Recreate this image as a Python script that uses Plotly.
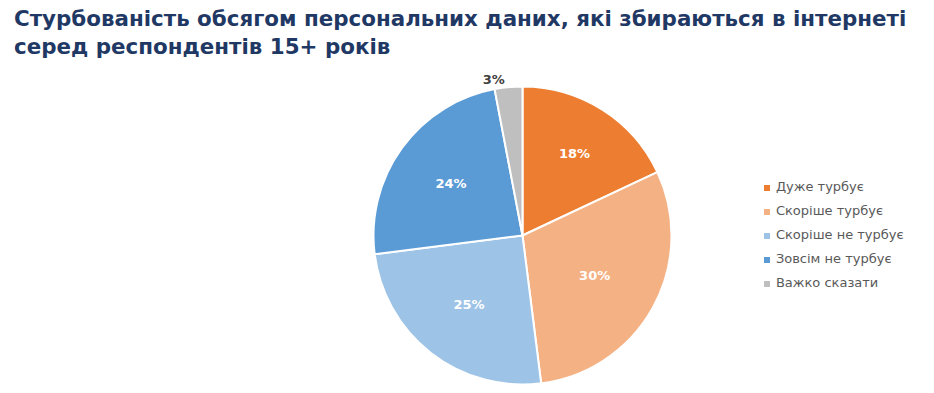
import plotly.graph_objects as go

labels = ["Дуже турбує", "Скоріше турбує", "Скоріше не турбує", "Зовсім не турбує", "Важко сказати"]
values = [18, 30, 25, 24, 3]
colors = ["#ED7D31", "#F4B183", "#9DC3E6", "#5B9BD5", "#BFBFBF"]
text_pos = ["inside", "inside", "inside", "inside", "outside"]
text_colors = ["#FFFFFF", "#FFFFFF", "#FFFFFF", "#FFFFFF", "#404040"]
title_lines = ["Стурбованість обсягом персональних даних, які збираються в інтернеті",
               "серед респондентів 15+ років"]

W, H = 934, 393
cx, cy, r = 522.5, 235.5, 149

fig = go.Figure()
fig.add_trace(go.Pie(
    labels=labels, values=values, sort=False, direction="clockwise", rotation=0,
    marker=dict(colors=colors, line=dict(color="white", width=2)),
    texttemplate="%{value}%", textposition=text_pos,
    textfont=dict(family="DejaVu Sans", size=13, color=text_colors, weight="bold"),
    insidetextorientation="horizontal",
    domain=dict(x=[(cx - r) / W, (cx + r) / W], y=[(H - cy - r) / H, (H - cy + r) / H]),
    showlegend=False, hoverinfo="label+percent",
))

# legend built from the category list (index -> row)
idx = list(range(len(labels)))
fig.add_trace(go.Scatter(
    x=[0] * len(labels), y=idx, mode="markers+text", text=[" " + l for l in labels],
    textposition="middle right",
    textfont=dict(family="DejaVu Sans", size=13, color="#595959"),
    marker=dict(symbol="square", size=6, color=colors),
    showlegend=False, hoverinfo="skip", cliponaxis=False,
))

fig.add_annotation(text="<br>".join(title_lines), xref="paper", yref="paper", x=12 / W, y=1 - 4 / H,
                   xanchor="left", yanchor="top", align="left", showarrow=False,
                   font=dict(family="DejaVu Sans", size=21.4, color="#1F3864", weight="bold"))

lx0 = 762
fig.update_layout(
    width=W, height=H, margin=dict(l=0, r=0, t=0, b=0),
    paper_bgcolor="white", plot_bgcolor="rgba(0,0,0,0)",
    xaxis=dict(visible=False, domain=[lx0 / W, 1], range=[-5, W - lx0 - 5], fixedrange=True),
    yaxis=dict(visible=False, domain=[(H - 296) / H, (H - 176) / H], range=[4.5, -0.5], fixedrange=True),
)
fig.write_html("out.html", config={"displayModeBar": False},
               post_script="document.body.style.margin='0';")
